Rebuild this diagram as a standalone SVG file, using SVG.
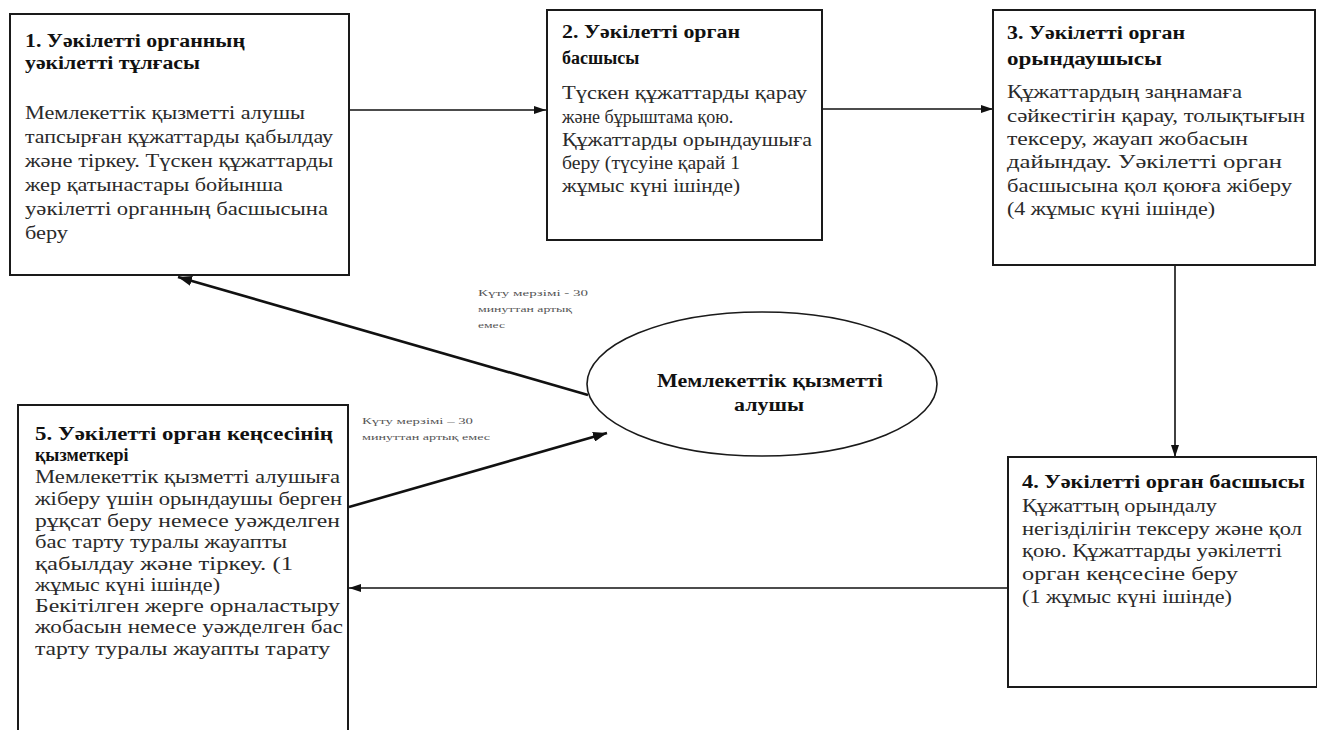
<svg xmlns="http://www.w3.org/2000/svg" width="1317" height="730" viewBox="0 0 1317 730">
<style>
.box{fill:#fff;stroke:#1a1a1a;stroke-width:2}
.t{font-family:"Liberation Serif",serif;font-size:18px;fill:#2a2a2a}
.b{font-weight:bold;fill:#111}
.s{font-family:"Liberation Serif",serif;font-size:9px;fill:#555}
.c{stroke:#111;stroke-width:1.6;fill:none}
.ct{stroke:#111;stroke-width:2.6;fill:none}
</style>
<defs>
<marker id="ah" viewBox="0 0 12 8" refX="12" refY="4" markerWidth="12" markerHeight="8" markerUnits="userSpaceOnUse" orient="auto">
<path d="M0,0 L12,4 L0,8 Z" fill="#111"/>
</marker>
<marker id="ahb" viewBox="0 0 14 10" refX="14" refY="5" markerWidth="14" markerHeight="10" markerUnits="userSpaceOnUse" orient="auto">
<path d="M0,0 L14,5 L0,10 Z" fill="#111"/>
</marker>
</defs>
<rect width="1317" height="730" fill="#fff"/>

<g id="connectors">
<line class="c" x1="349" y1="110" x2="546" y2="110" marker-end="url(#ah)"/>
<line class="c" x1="822" y1="109" x2="993" y2="109" marker-end="url(#ah)"/>
<line class="c" x1="1175" y1="265" x2="1175" y2="457" marker-end="url(#ah)"/>
<line class="c" x1="1008" y1="588" x2="349" y2="588" marker-end="url(#ah)"/>
<line class="ct" x1="588" y1="395" x2="178" y2="277" marker-end="url(#ahb)"/>
<line class="ct" x1="349" y1="507" x2="607" y2="433" marker-end="url(#ahb)"/>
<text class="s" x="478" y="296" textLength="110" lengthAdjust="spacingAndGlyphs">Күту мерзімі  - 30</text>
<text class="s" x="478" y="312" textLength="94" lengthAdjust="spacingAndGlyphs">минуттан артық</text>
<text class="s" x="478" y="328" textLength="27" lengthAdjust="spacingAndGlyphs">емес</text>
<text class="s" x="362" y="424" textLength="111" lengthAdjust="spacingAndGlyphs">Күту мерзімі – 30</text>
<text class="s" x="362" y="440" style="font-size:8px" textLength="128" lengthAdjust="spacingAndGlyphs">минуттан  артық емес</text>
</g>

<g id="node1">
<rect class="box" x="10" y="14" width="339" height="261"/>
<text class="t b" x="25" y="47" textLength="220" lengthAdjust="spacingAndGlyphs">1. Уәкілетті органның</text>
<text class="t b" x="25" y="69" textLength="175" lengthAdjust="spacingAndGlyphs">уәкілетті тұлғасы</text>
<text class="t" x="25" y="119" textLength="280" lengthAdjust="spacingAndGlyphs">Мемлекеттік қызметті алушы</text>
<text class="t" x="25" y="143" textLength="308" lengthAdjust="spacingAndGlyphs">тапсырған құжаттарды қабылдау</text>
<text class="t" x="25" y="167" textLength="308" lengthAdjust="spacingAndGlyphs">және тіркеу. Түскен құжаттарды</text>
<text class="t" x="25" y="191" textLength="258" lengthAdjust="spacingAndGlyphs">жер қатынастары бойынша</text>
<text class="t" x="25" y="215" textLength="303" lengthAdjust="spacingAndGlyphs">уәкілетті  органның басшысына</text>
<text class="t" x="25" y="239" textLength="43" lengthAdjust="spacingAndGlyphs">беру</text>
</g>

<g id="node2">
<rect class="box" x="547" y="10" width="275" height="230"/>
<text class="t b" x="562" y="38" textLength="178" lengthAdjust="spacingAndGlyphs">2.  Уәкілетті орган</text>
<text class="t b" x="562" y="64">басшысы</text>
<text class="t" x="562" y="99" textLength="245" lengthAdjust="spacingAndGlyphs">Түскен құжаттарды қарау</text>
<text class="t" x="562" y="123">және бұрыштама қою.</text>
<text class="t" x="562" y="146" textLength="250" lengthAdjust="spacingAndGlyphs">Құжаттарды  орындаушыға</text>
<text class="t" x="562" y="169" textLength="178" lengthAdjust="spacingAndGlyphs">беру (түсуіне қарай 1</text>
<text class="t" x="562" y="192" textLength="178" lengthAdjust="spacingAndGlyphs">жұмыс күні ішінде)</text>
</g>

<g id="node3">
<rect class="box" x="993" y="10" width="322" height="255"/>
<text class="t b" x="1007" y="39" textLength="178" lengthAdjust="spacingAndGlyphs">3. Уәкілетті орган</text>
<text class="t b" x="1007" y="65" textLength="155" lengthAdjust="spacingAndGlyphs">орындаушысы</text>
<text class="t" x="1007" y="98" textLength="235" lengthAdjust="spacingAndGlyphs">Құжаттардың заңнамаға</text>
<text class="t" x="1007" y="122" textLength="298" lengthAdjust="spacingAndGlyphs">сәйкестігін қарау, толықтығын</text>
<text class="t" x="1007" y="145" textLength="241" lengthAdjust="spacingAndGlyphs">тексеру, жауап жобасын</text>
<text class="t" x="1007" y="168" textLength="275" lengthAdjust="spacingAndGlyphs">дайындау. Уәкілетті орган</text>
<text class="t" x="1007" y="192" textLength="285" lengthAdjust="spacingAndGlyphs">басшысына қол қоюға жіберу</text>
<text class="t" x="1007" y="215" textLength="208" lengthAdjust="spacingAndGlyphs">(4 жұмыс күні ішінде)</text>
</g>

<g id="node4">
<rect class="box" x="1008" y="457" width="309" height="230"/>
<text class="t b" x="1022" y="488" textLength="283" lengthAdjust="spacingAndGlyphs">4. Уәкілетті  орган басшысы</text>
<text class="t" x="1022" y="512" textLength="195" lengthAdjust="spacingAndGlyphs">Құжаттың орындалу</text>
<text class="t" x="1022" y="535" textLength="280" lengthAdjust="spacingAndGlyphs">негізділігін тексеру және қол</text>
<text class="t" x="1022" y="557" textLength="260" lengthAdjust="spacingAndGlyphs">қою. Құжаттарды уәкілетті</text>
<text class="t" x="1022" y="580" textLength="216" lengthAdjust="spacingAndGlyphs">орган кеңсесіне беру</text>
<text class="t" x="1022" y="603" textLength="210" lengthAdjust="spacingAndGlyphs">(1 жұмыс күні ішінде)</text>
</g>

<g id="node5">
<rect class="box" x="18" y="405" width="330" height="340"/>
<text class="t b" x="35" y="440" textLength="298" lengthAdjust="spacingAndGlyphs">5. Уәкілетті орган кеңсесінің</text>
<text class="t b" x="35" y="461">қызметкері</text>
<text class="t" x="35" y="483" textLength="305" lengthAdjust="spacingAndGlyphs">Мемлекеттік қызметті алушыға</text>
<text class="t" x="35" y="505" textLength="307" lengthAdjust="spacingAndGlyphs">жіберу үшін орындаушы берген</text>
<text class="t" x="35" y="527" textLength="305" lengthAdjust="spacingAndGlyphs">рұқсат беру немесе уәжделген</text>
<text class="t" x="35" y="548" textLength="252" lengthAdjust="spacingAndGlyphs">бас тарту туралы жауапты</text>
<text class="t" x="35" y="570" textLength="258" lengthAdjust="spacingAndGlyphs">қабылдау және тіркеу. (1</text>
<text class="t" x="35" y="591" textLength="185" lengthAdjust="spacingAndGlyphs">жұмыс күні ішінде)</text>
<text class="t" x="35" y="612" textLength="305" lengthAdjust="spacingAndGlyphs">Бекітілген жерге орналастыру</text>
<text class="t" x="35" y="633" textLength="308" lengthAdjust="spacingAndGlyphs">жобасын немесе уәжделген бас</text>
<text class="t" x="35" y="655" textLength="295" lengthAdjust="spacingAndGlyphs">тарту туралы жауапты тарату</text>
</g>

<g id="node6">
<ellipse cx="762" cy="384" rx="175" ry="72" fill="#fff" stroke="#1a1a1a" stroke-width="1.6"/>
<text class="t b" x="657" y="387" textLength="226" lengthAdjust="spacingAndGlyphs">Мемлекеттік қызметті</text>
<text class="t b" x="734" y="411" textLength="70" lengthAdjust="spacingAndGlyphs">алушы</text>
</g>
</svg>
